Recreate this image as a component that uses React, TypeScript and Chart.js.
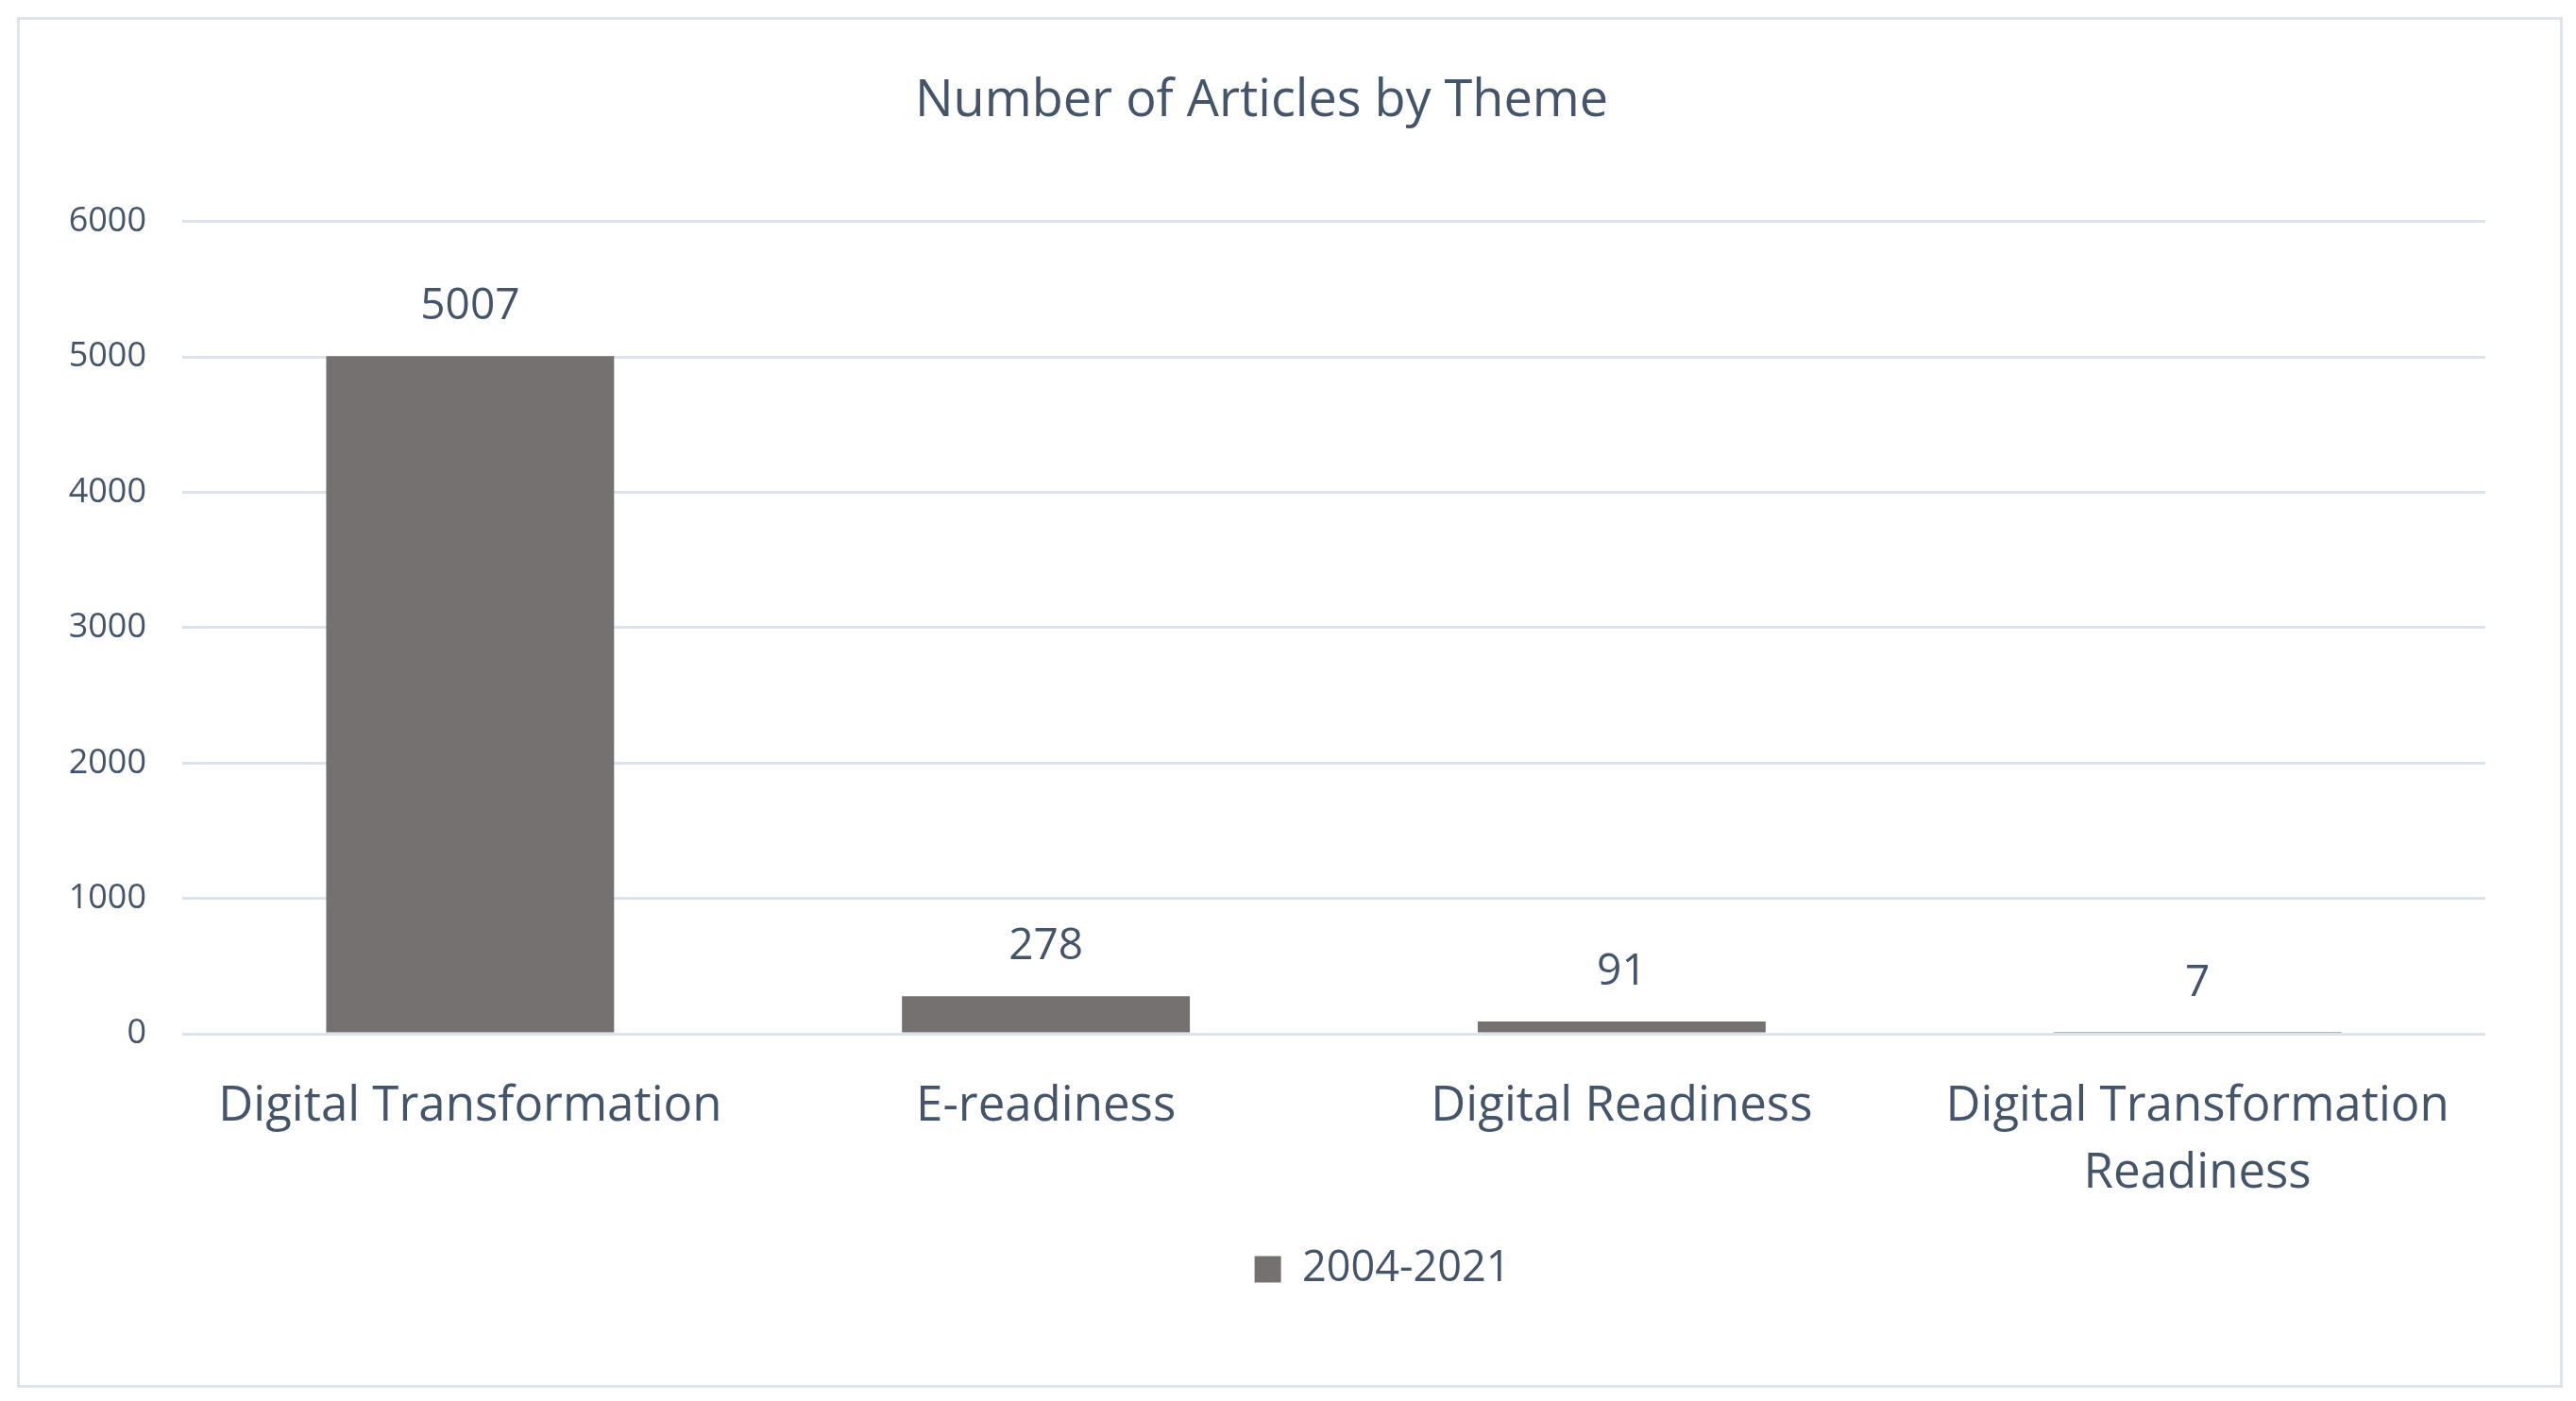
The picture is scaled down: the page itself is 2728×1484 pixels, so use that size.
import React, { useEffect, useRef } from "react";
import { Chart, registerables } from "chart.js";

Chart.register(...registerables);

const titleText = "Number of Articles by Theme";
const categories: string[][] = [
  ["Digital Transformation"],
  ["E-readiness"],
  ["Digital Readiness"],
  ["Digital Transformation", "Readiness"],
];
const seriesLabel = "2004-2021";
const values = [5007, 278, 91, 7];
const yMin = 0;
const yMax = 6000;
const yStep = 1000;

const FONT = "'Open Sans', 'Noto Sans', sans-serif";
const TEXT = "#44546A";
const BAR = "#767171";
const GRID = "#DCE3EB";

const valueLabels = {
  id: "valueLabels",
  afterLayout(chart: any) {
    const lg = chart.legend;
    if (lg) {
      lg.left += 128;
      lg.right += 128;
    }
  },
  afterDatasetsDraw(chart: any) {
    const ctx = chart.ctx;
    const meta = chart.getDatasetMeta(0);
    const data = chart.data.datasets[0].data;
    ctx.save();
    ctx.font = `46px ${FONT}`;
    ctx.fillStyle = TEXT;
    ctx.textAlign = "center";
    ctx.textBaseline = "middle";
    meta.data.forEach((el: any, i: number) => {
      ctx.fillText(String(data[i]), el.x, el.y - 52);
    });
    ctx.restore();
  },
};

export default function App() {
  const ref = useRef<HTMLCanvasElement | null>(null);
  useEffect(() => {
    if (!ref.current) return;
    const chart = new Chart(ref.current, {
      type: "bar",
      data: {
        labels: categories,
        datasets: [
          {
            label: seriesLabel,
            data: values,
            backgroundColor: BAR,
            borderWidth: 0,
            categoryPercentage: 1,
            barPercentage: 0.5,
          },
        ],
      },
      options: {
        responsive: false,
        animation: false,
        devicePixelRatio: 1,
        layout: { padding: { top: 0, left: 40, right: 96, bottom: 107 } },
        plugins: {
          title: {
            display: true,
            text: titleText,
            color: TEXT,
            font: { family: FONT, size: 54, weight: "normal", lineHeight: 1.2 },
            padding: { top: 75, bottom: 95 },
          },
          legend: {
            display: true,
            position: "bottom",
            labels: {
              color: TEXT,
              font: { family: FONT, size: 45 },
              boxWidth: 28,
              boxHeight: 28,
              padding: 43,
            },
          },
          tooltip: { enabled: false },
        },
        scales: {
          x: {
            afterFit: (scale: any) => {
              scale.height = 184;
            },
            grid: { display: false, drawTicks: false },
            border: { display: false },
            ticks: {
              color: TEXT,
              font: { family: FONT, size: 51, lineHeight: 1.39 },
              padding: 42,
              maxRotation: 0,
              autoSkip: false,
            },
          },
          y: {
            min: yMin,
            max: yMax,
            afterFit: (scale: any) => {
              scale.width = 153;
            },
            grid: { color: GRID, lineWidth: 3, drawTicks: false },
            border: { display: false },
            ticks: {
              stepSize: yStep,
              color: TEXT,
              font: { family: FONT, size: 36 },
              padding: 38,
              callback: (v: any) => String(v),
            },
          },
        },
      },
      plugins: [valueLabels],
    });
    return () => chart.destroy();
  }, []);

  return (
    <div
      style={{
        position: "absolute",
        left: 0,
        top: 0,
        width: 2728,
        height: 1484,
        background: "#ffffff",
      }}
    >
      <canvas ref={ref} width={2728} height={1484} style={{ position: "absolute", left: 0, top: 0, width: 2728, height: 1484 }} />
      <div
        style={{
          position: "absolute",
          left: 18,
          top: 18,
          width: 2690,
          height: 1446,
          border: "3px solid #DDE5EC",
          pointerEvents: "none",
        }}
      />
    </div>
  );
}
